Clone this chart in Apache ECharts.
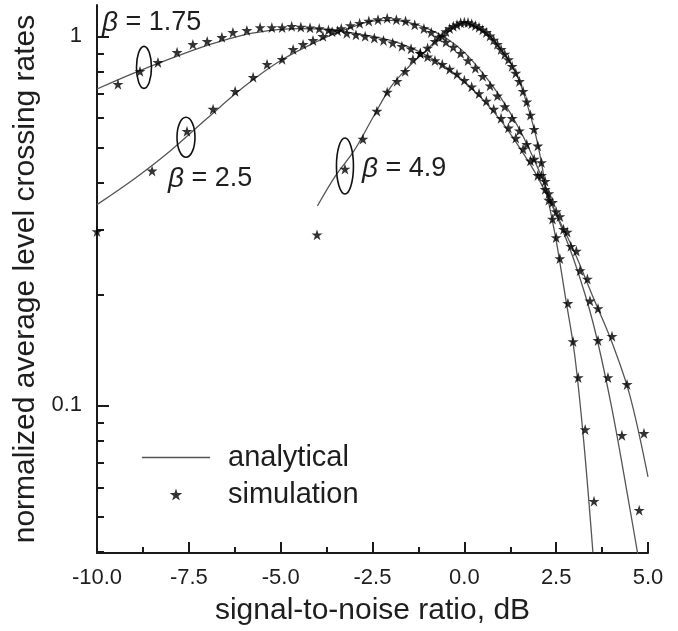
<!DOCTYPE html>
<html>
<head>
<meta charset="utf-8">
<script src="https://cdn.jsdelivr.net/npm/echarts@6/dist/echarts.min.js"></script>
<style>
html,body{margin:0;padding:0;background:#fff;}
#chart{width:678px;height:631px;}
</style>
</head>
<body>
<div id="chart"></div>
<script>
// ---- data (SNR in dB, normalized average level crossing rate) ----
const xTicks = [-10, -7.5, -5, -2.5, 0, 2.5, 5];
const yMajorTicks = [0.1, 1];
const yMinorTicks = [0.04, 0.05, 0.06, 0.07, 0.08, 0.09, 0.2, 0.3, 0.4, 0.5, 0.6, 0.7, 0.8, 0.9];

// beta = 1.75
const snrA175 = [-10,-9,-8,-7,-6,-5,-4.5,-4,-3.5,-3,-2.5,-2,-1.5,-1,-0.5,0,0.5,1,1.5,2,2.5,3,3.5,4,4.5,5];
const rateA175 = [0.72,0.795,0.87,0.945,1.01,1.045,1.05,1.048,1.04,1.02,1.0,0.975,0.935,0.885,0.825,0.755,0.675,0.59,0.5,0.415,0.33,0.26,0.197,0.15,0.107,0.064];
const snrS175 = [-9.43,-8.83,-8.34,-7.82,-7.39,-7.0,-6.6,-6.3,-5.92,-5.56,-5.24,-4.96,-4.7,-4.45,-4.2,-3.95,-3.7,-3.45,-3.2,-2.95,-2.7,-2.45,-2.2,-1.95,-1.7,-1.45,-1.2,-1.0,-0.8,-0.6,-0.4,-0.2,0.0,0.2,0.4,0.6,0.8,1.0,1.2,1.4,1.6,1.8,2.0,2.2,2.4,2.6,2.8,3.05,3.35,3.64,4.02,4.43,4.89];
const rateS175 = [0.742,0.804,0.85,0.905,0.951,0.969,0.994,1.025,1.038,1.057,1.057,1.057,1.065,1.06,1.055,1.05,1.04,1.035,1.02,1.01,1.0,0.99,0.975,0.96,0.94,0.925,0.9,0.88,0.86,0.84,0.815,0.79,0.76,0.73,0.7,0.668,0.635,0.6,0.565,0.53,0.495,0.46,0.42,0.385,0.355,0.325,0.295,0.262,0.22,0.183,0.154,0.114,0.084];

// beta = 2.5
const snrA25 = [-10,-9,-8,-7,-6,-5,-4,-3.5,-3,-2.5,-2,-1.5,-1,-0.5,0,0.5,1,1.5,2,2.5,3,3.5,4,4.5,4.75];
const rateA25 = [0.35,0.41,0.49,0.6,0.73,0.86,0.97,1.02,1.065,1.1,1.105,1.09,1.05,0.99,0.905,0.795,0.68,0.56,0.44,0.33,0.245,0.168,0.1,0.053,0.038];
const snrS25 = [-10,-8.5,-7.55,-6.84,-6.24,-5.75,-5.37,-4.96,-4.66,-4.39,-4.12,-3.85,-3.6,-3.35,-3.1,-2.85,-2.6,-2.35,-2.1,-1.85,-1.6,-1.35,-1.1,-0.9,-0.7,-0.5,-0.3,-0.1,0.1,0.3,0.5,0.7,0.9,1.1,1.3,1.5,1.7,1.9,2.1,2.3,2.5,2.7,2.9,3.15,3.42,3.64,3.91,4.29,4.76];
const rateS25 = [0.296,0.432,0.553,0.635,0.71,0.775,0.84,0.867,0.922,0.951,0.975,1.0,1.03,1.05,1.07,1.085,1.1,1.11,1.12,1.11,1.1,1.075,1.05,1.025,0.995,0.965,0.935,0.9,0.86,0.82,0.78,0.735,0.69,0.645,0.6,0.555,0.51,0.465,0.42,0.375,0.335,0.3,0.27,0.232,0.192,0.15,0.119,0.083,0.052];

// beta = 4.9
const snrA49 = [-4,-3.5,-3,-2.5,-2,-1.5,-1,-0.5,-0.25,0,0.25,0.5,0.75,1,1.25,1.5,1.75,2,2.25,2.5,2.75,3,3.25,3.5];
const rateA49 = [0.347,0.42,0.49,0.6,0.73,0.83,0.925,1.035,1.07,1.09,1.07,1.04,0.99,0.92,0.85,0.755,0.635,0.51,0.375,0.28,0.197,0.138,0.08,0.04];
const snrS49 = [-4.01,-3.25,-2.76,-2.38,-2.1,-1.83,-1.61,-1.4,-1.2,-1.0,-0.8,-0.6,-0.5,-0.4,-0.3,-0.2,-0.1,0,0.1,0.2,0.3,0.4,0.5,0.6,0.7,0.8,0.9,1.0,1.1,1.2,1.3,1.4,1.5,1.6,1.7,1.8,1.9,2.0,2.1,2.2,2.3,2.4,2.5,2.6,2.82,2.96,3.10,3.29,3.53];
const rateS49 = [0.29,0.437,0.527,0.627,0.706,0.756,0.804,0.866,0.9,0.93,0.97,1.0,1.03,1.05,1.065,1.075,1.088,1.092,1.09,1.082,1.07,1.058,1.042,1.025,1.003,0.978,0.952,0.922,0.895,0.865,0.83,0.795,0.755,0.71,0.665,0.612,0.56,0.505,0.455,0.405,0.36,0.32,0.285,0.25,0.189,0.149,0.119,0.086,0.055];

// ---- build ----
const lg = v => Math.log10(v);
const pairs = (xs, ys) => xs.map((x, i) => [x, lg(ys[i])]);
const STAR = 'path://M50,0 L61.2,34.5 L97.6,34.5 L68.2,55.9 L79.4,90.5 L50,69.1 L20.6,90.5 L31.8,55.9 L2.4,34.5 L38.8,34.5 Z';
const LINE_ICON = 'path://M0,0 L68,0 L68,1.4 L0,1.4 Z';
const FONT = '"Liberation Sans", Arial, Helvetica, sans-serif';
const TXT = '#1e1e1e';
const AX = '#1a1a1a';
const GRID_LEFT = 97, GRID_RIGHT = 30, CHART_W = 678;

function lineSeries(xs, ys) {
  return { name: 'analytical', type: 'line', data: pairs(xs, ys), symbol: 'none', smooth: 0.35,
    itemStyle: { color: '#555' }, lineStyle: { color: '#555', width: 1.3 }, z: 2, silent: true };
}
function starSeries(xs, ys) {
  return { name: 'simulation', type: 'scatter', data: pairs(xs, ys), symbol: STAR, symbolSize: 11,
    itemStyle: { color: '#000' }, z: 3, silent: true };
}

const chart = echarts.init(document.getElementById('chart'), null, { renderer: 'canvas' });
const yMin = -1.4, yMax = 0.085;
const option = {
  animation: false,
  backgroundColor: '#fff',
  textStyle: { fontFamily: FONT },
  grid: { left: GRID_LEFT, right: GRID_RIGHT, top: 5, bottom: 75 },
  legend: {
    data: [{ name: 'analytical', icon: LINE_ICON }, { name: 'simulation' }],
    orient: 'vertical', left: 137, top: 438,
    itemWidth: 68, itemHeight: 12, itemGap: 8,
    textStyle: { fontSize: 29, color: TXT, fontFamily: FONT, padding: [0, 0, 0, 13] },
    selectedMode: false
  },
  xAxis: {
    type: 'value', min: -10, max: 5, interval: 2.5,
    name: 'signal-to-noise ratio, dB', nameLocation: 'middle', nameGap: 43,
    nameTextStyle: { fontSize: 30, color: TXT, fontFamily: FONT },
    axisLine: { onZero: false, lineStyle: { color: AX, width: 2 } },
    axisTick: { inside: true, length: 11, lineStyle: { width: 2, color: AX } },
    minorTick: { show: true, splitNumber: 2, length: 6, lineStyle: { width: 2, color: AX } },
    axisLabel: { fontSize: 22, color: TXT, margin: 14, fontFamily: FONT,
      formatter: v => xTicks.indexOf(v) >= 0 ? v.toFixed(1) : '' },
    splitLine: { show: false }
  },
  yAxis: [
    {
      type: 'value', min: yMin, max: yMax, position: 'left',
      name: 'normalized average level crossing rates', nameLocation: 'middle', nameGap: 53,
      nameTextStyle: { fontSize: 30, color: TXT, fontFamily: FONT },
      axisLine: { show: true, onZero: false, lineStyle: { color: AX, width: 2 } },
      axisTick: { show: true, inside: true, length: 12, customValues: yMajorTicks.map(lg),
        lineStyle: { width: 2, color: AX } },
      axisLabel: { fontSize: 22, color: TXT, margin: 15, fontFamily: FONT,
        customValues: yMajorTicks.map(lg),
        formatter: v => { const r = Math.pow(10, v); return r > 0.5 ? String(Math.round(r)) : r.toFixed(1); } },
      splitLine: { show: false }
    },
    {
      // minor log ticks: a right-side axis shifted onto the left edge, ticks pointing into the plot
      type: 'value', min: yMin, max: yMax, position: 'right',
      offset: -(CHART_W - GRID_LEFT - GRID_RIGHT),
      axisLine: { show: false, onZero: false },
      axisTick: { show: true, inside: false, length: 7, customValues: yMinorTicks.map(lg),
        lineStyle: { width: 2, color: AX } },
      axisLabel: { show: false },
      splitLine: { show: false }
    }
  ],
  series: [
    lineSeries(snrA175, rateA175),
    lineSeries(snrA25, rateA25),
    lineSeries(snrA49, rateA49),
    starSeries(snrS175, rateS175),
    starSeries(snrS25, rateS25),
    starSeries(snrS49, rateS49)
  ]
};
chart.setOption(option);

// annotations: ellipses around marked simulation points and beta labels
function px(x, v) { return chart.convertToPixel({ gridIndex: 0 }, [x, lg(v)]); }
const e1 = px(snrS175[1], rateS175[1]);
const e2 = px(snrS25[2], rateS25[2]);
const e3 = px(snrS49[1], rateS49[1]);
const ell = (c, dx, dy, rx, ry) => ({ type: 'ellipse', shape: { cx: c[0] + dx, cy: c[1] + dy, rx: rx, ry: ry },
  style: { fill: 'none', stroke: '#111', lineWidth: 1.6 }, z: 10 });
const betaText = (x, y, val) => ({ type: 'text', x: x, y: y, z: 10,
  style: { text: '{b|β} = ' + val, fontSize: 27, fill: TXT, fontFamily: FONT, verticalAlign: 'middle',
    rich: { b: { fontStyle: 'italic', fontSize: 28, fontFamily: FONT, fill: TXT } } } });
chart.setOption({
  graphic: [
    ell(e1, 4, -4, 7.5, 21),
    ell(e2, -1, 6, 9, 20),
    ell(e3, 0, -3, 8.5, 28),
    betaText(102, 23, '1.75'),
    betaText(168, 179, '2.5'),
    betaText(362, 169, '4.9')
  ]
});
</script>
</body>
</html>
